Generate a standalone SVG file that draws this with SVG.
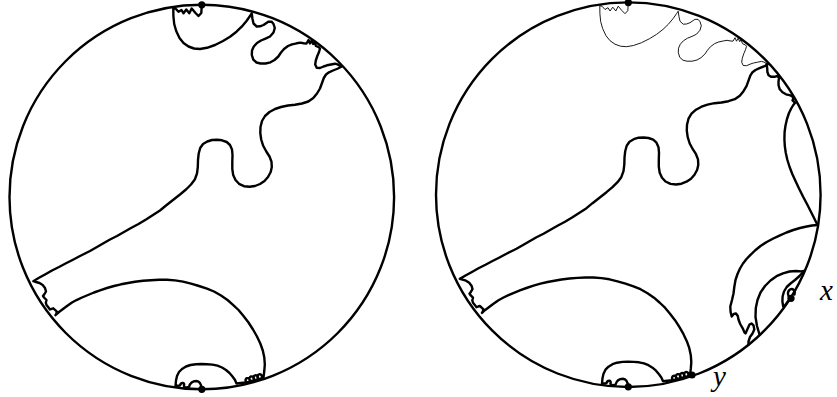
<svg xmlns="http://www.w3.org/2000/svg" xmlns:xlink="http://www.w3.org/1999/xlink" width="837" height="397" viewBox="0 0 837 397">
<style>
.disk{fill:none;stroke:#000;stroke-width:2.4}
.thick{fill:none;stroke:#000;stroke-width:2.4;stroke-linejoin:round;stroke-linecap:round}
.thin{fill:none;stroke:#000;stroke-width:0.9;stroke-linejoin:round;stroke-linecap:round}
.dot{fill:#000}
.lbl{font-family:"Liberation Serif","DejaVu Serif",serif;font-style:italic;font-size:29px;fill:#000}
</style>
<defs>
<path id="curveTop" d="M201.8,5 L201.3,13 L198.5,16 L195.5,13 L191.7,8.5 L189.3,13.3 L186.3,9.5 L183.5,13.3 L181.5,10 L178.5,11.8 L175.5,8.5 L173.3,8 L173.4,16 L174.2,24 L176.2,31 L179.5,38 L183.5,43 L188.5,46.5 L194,48.5 L200,49 L207,47.8 L215,45 L223,41 L230,36.7 L236.5,31.7 L241.7,26.7 L246.5,21 L250,16 L251.7,13.5 L252.5,19 L253.5,23.5 L256.7,26.5 L260,26.3 L263.5,25 L268.3,21.7 L271.5,21.6 L273.5,24 L274.8,28 L273.5,32.5 L270,36.5 L265.5,38.7 L261,40.5 L257,43 L253.8,46.5 L252,50.5 L251.8,55 L253.3,59.7 L256.5,62.5 L260.5,63.5 L265.5,63.5 L270.5,62.3 L274.5,60 L278.3,56.5 L281,52.5 L284,49 L288,46 L292,44.3 L296.7,43.3 L300.5,42.6 L303.5,43.2 L306.5,43.5 L308.5,40 L310,43.5 L311.7,40.5 L313.2,44 L314.5,42 L316,46 L318.8,47.2 L320,48.5 L319,52 L317.3,56 L315.8,60.5 L315.2,64.5 L316.7,67.8 L320,68 L323.5,66.5 L327,65.3 L331,64.5 L335,63.7 L337.5,64.4 L339.5,65.5 L341.5,66.5"/>
<path id="curveMain" d="M341.5,66.5 L338,68.5 L333,70.5 L329,72.3 L326,74.5 L323.8,78 L322,83 L320,88.5 L317,93.5 L313.3,98 L308.3,101.5 L302,103.5 L295,104.8 L288,105.5 L281,107 L275,109 L269.5,112 L265,116 L262,121 L260.5,127 L260.3,133 L261.2,139.5 L263.2,145.8 L266.3,151.5 L269.5,156.5 L271.5,161.7 L271.8,167 L270.7,172 L268,177 L264.5,181 L260,184 L255,186 L249.5,186.8 L244,186.2 L239,183.8 L235.5,180 L233.2,175 L232.3,169 L232.3,162 L232.5,155 L232,149.5 L230,145 L226.7,142 L222,140.3 L217,139.8 L212,140 L207.3,141.5 L203,144 L200.2,148 L198.7,153.5 L198,160 L197.8,167 L197,173.5 L194.8,179.5 L191,184.5 L186,189.5 L180,194.5 L173,200 L166,205.5 L160,210.5 L153,215 L146,219.5 L138.5,224 L131,228 L124,232 L117,236 L110,239.5 L103,243.5 L97,247 L90,251 L86,253 L80,256 L72.5,260 L66,263.3 L59,267 L52,270.5 L45,274.5 L39,277.8 L33.3,281.2 L36,282 L39.5,283 L42.7,285 L45,288 L46,291.5 L44.5,294 L43,296 L44.5,298 L46.5,300 L45.8,302.7 L46.5,305 L48.3,307.2 L50,309.5 L51.7,308.8 L53.3,308.3 L55,309.8 L56.8,311.5 L56.3,313.8 L55.5,315.2 L59,312 L63,309 L67,306 L72,302.5 L77,299.8 L82,297.5 L88,295 L94,292.5 L100,290.3 L107,288 L114,286 L121,284.3 L128,283 L135,281.8 L143,280.8 L151,280.2 L159,279.8 L167,279.8 L175,280.4 L183,281.6 L191,283.6 L199,286 L207,288.6 L214,291.5 L221,295.5 L227.5,300 L233,304.8 L238.5,310 L243.5,316 L248.5,322.5 L253,329.5 L257,336.5 L260.3,343.5 L262.8,350.5 L264.3,357.5 L264.8,364.5 L264.3,371 L263.5,377.5 L261,378.5 a2.3,2.3 0 1 0 -1.5,0.4 l-2.5,0.6 a2.3,2.3 0 1 0 -1.5,0.4 l-2.5,0.7 a2.3,2.3 0 1 0 -1.5,0.4 l-2.5,0.8 a2.1,2.1 0 1 0 -1.4,0.5 L236.5,383.5 L235,380 L232.5,376.5 L229.5,373 L226,370 L222,367.5 L217.5,365.7 L212.5,364.6 L207,364.2 L201.5,364 L196,364.2 L190.5,365 L186,366.5 L182,369 L179,372 L177,376 L176,380.5 L175.5,386 L180,385.5 C181,382 185,382.5 184,385.5 C183.5,387.5 186.5,387.8 189,387 C190,383 193,381 196.5,381 C199.5,381.2 201.2,384 201.8,389"/>
</defs>
<g id="left-disk">
<circle class="disk" cx="201.8" cy="197" r="192.3"/>
<use xlink:href="#curveTop" class="thick"/>
<use xlink:href="#curveMain" class="thick"/>
<circle class="dot" cx="201.8" cy="4.8" r="3.6"/>
<circle class="dot" cx="201.8" cy="389.3" r="3.6"/>
</g>
<g id="right-disk">
<circle class="disk" cx="628.3" cy="194.7" r="192.3"/>
<g transform="translate(426.5,-2.3)">
<use xlink:href="#curveTop" class="thin"/>
<use xlink:href="#curveMain" class="thick"/>
</g>
<path class="thick" d="M766.5,64.3 L767.2,68 L767.4,72 L768.6,75.3 L771,76.8 L774.5,76.8 L777.5,75.8 L779,78 L778.5,81.5 L778.6,85.5 L779.8,89.3 L782.5,92.3 L786,94.3 L789.5,95.2 L792,96 L793.5,98.3 L792.5,100.3 L793.8,101.5 L795,103 L793.3,105 L791.2,108.5 L789,113 L787,119 L785.5,125.5 L784.6,132 L784.4,139 L784.8,146 L785.8,153 L787.4,160 L789.6,167 L792.3,174 L795.5,181 L799,188.5 L803,196.5 L807.5,205 L812.3,214.5 L817.5,225 L812,225.5 L806.7,226.5 L800,228 L793.3,230 L786.5,232.5 L780,235.3 L773.3,238.5 L766.7,242 L760.5,246 L755,250.5 L750.5,254.8 L746.5,259 L743,263.5 L740,268.5 L737.5,274 L735.5,280 L734.3,287 L733.5,293.5 L732,300 L730.3,306.5 L730.6,312 L731.7,316.5 L733.7,314 L736,313.5 L737.8,316 L738.5,319.5 L740.2,324 L742.7,328.3 L744.5,332.5 L745.5,333.5 L747.5,329 L749.5,324.5 L751.5,323.5 L753.5,325.3 L754.3,329.5 L752.5,333.5 L750,337 L748.5,341.5 L748.5,344.5"/>
<path class="thick" d="M759.5,334.5 L757,326 L755.5,317 L755.8,308 L757.5,300 L760.5,292.5 L765,286 L770.5,280.5 L776.5,276.2 L783,273.3 L789.5,271.5 L796,271 L801,271.4 L804,271"/>
<path class="thick" d="M803.5,271.5 L799.5,276 L795,280 L790.5,283.5 L786.7,287 L784,291.5 L782.6,296.5 L782.4,301.5 L783.2,306.5 L785,305.5 L787.5,302 L790.3,298.3 M790.3,298.3 C787.5,296.5 787,291.5 790,289.5 C793,288 795.5,291 794.5,294.5"/>
<circle class="dot" cx="628.3" cy="2.6" r="3.6"/>
<circle class="dot" cx="628.3" cy="386.8" r="3.6"/>
<circle class="dot" cx="791" cy="298.3" r="3.6"/>
<circle class="dot" cx="692" cy="375" r="3.6"/>
</g>
<g id="labels">
<text class="lbl" x="820" y="300">x</text>
<text class="lbl" x="713" y="386">y</text>
</g>
</svg>
